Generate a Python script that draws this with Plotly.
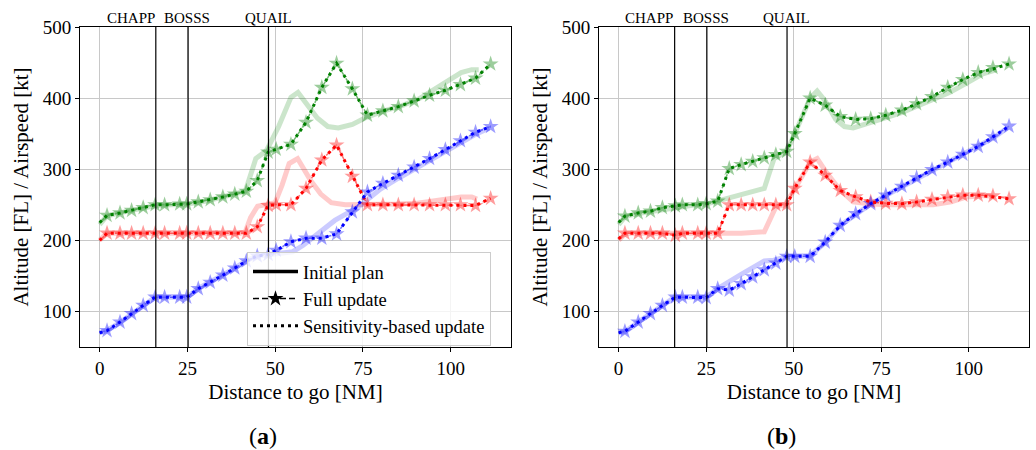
import plotly.graph_objects as go

# ---------------- data: panel (a) ----------------
XA = [0, 2.1, 5.8, 9.1, 12.4, 15.8, 18.5, 22.8, 24.8, 28.1, 31.5, 35.1, 38.5, 41.8, 44.9, 48.0,
      50.3, 54.5, 58.8, 63.3, 67.5, 72.0, 76.3, 80.7, 85.1, 89.6, 94.0, 98.5, 102.8, 107.1, 111.4]
A_green_full = [225, 235, 238.5, 242, 246, 250, 250, 251, 251, 254, 257, 261, 265, 269, 284, 324,
                328, 335, 366, 415, 449, 413, 376, 382, 388, 396, 404, 411, 419, 428, 448]
A_red_full = [200, 210, 210, 210, 210, 210, 210, 210, 210, 210, 210, 210, 210, 210, 219, 249,
              250, 250, 273, 313, 334, 290, 250, 250, 250, 250, 250, 250, 250, 249, 259]
A_blue_full = [70, 73, 85, 97, 108.5, 120, 120, 120, 120, 132, 141, 151, 161, 171, 178, 180,
               186, 198, 203, 203, 209, 240, 268, 280, 291.5, 303, 315, 327.5, 340, 352, 360]
A_green_sens = [225, 235, 238.5, 242, 246, 250, 250, 251, 251, 254, 257, 261, 265, 269, 284, 324,
                328, 335, 366, 415, 449, 413, 376, 382, 388, 396, 404, 411, 419, 428, 448]
A_red_sens = [200, 210, 210, 210, 210, 210, 210, 210, 210, 210, 210, 210, 210, 210, 219, 249,
              250, 250, 273, 313, 334, 290, 250, 250, 250, 250, 250, 250, 250, 249, 259]
A_blue_sens = [70, 73, 85, 97, 108.5, 120, 120, 120, 120, 132, 141, 151, 161, 171, 178, 180,
               186, 198, 203, 203, 209, 240, 268, 280, 291.5, 303, 315, 327.5, 340, 352, 360]

A_green_init_x = [0, 2, 6, 10, 16, 25, 30, 35, 41.5, 44.5, 47.5, 51, 54.5, 56.5, 59, 62, 65, 68,
                  72, 76, 81, 86, 91, 95, 99, 103, 106, 108]
A_green_init_y = [222, 234, 239, 243, 249, 251, 255, 261, 269, 315, 326, 360, 401, 408, 392, 372,
                  360, 358, 363, 373, 382, 389, 399, 412, 425, 436, 440, 440]
A_red_init_x = [0, 2, 10, 20, 30, 40, 41.5, 43, 45, 48, 50, 52, 54, 56.4, 58, 60, 63, 66, 70,
                76, 85, 90, 95, 100, 103, 106, 107.5]
A_red_init_y = [200, 210, 210, 210, 210, 210, 212, 232, 248, 251, 253, 278, 308, 315, 302, 285,
                265, 253, 250, 250, 251, 252, 255, 259, 261, 261, 258]
A_blue_init_x = [0, 2, 6, 9, 12.4, 15.8, 18, 22, 25, 28, 31.5, 35, 38.5, 42, 45, 48, 52, 55, 58,
                 61, 64, 67, 70.5, 74, 77, 80, 85, 90, 94, 98.5, 103, 107.5, 111]
A_blue_init_y = [70, 73, 85, 96, 108, 120, 120, 120, 120, 132, 141, 151, 161, 172, 178, 180, 181,
                 184, 193, 205, 217, 228, 238, 248, 260, 272, 287, 301, 313, 325, 338, 350, 358]

# ---------------- data: panel (b) ----------------
XB = [0, 1.8, 5.6, 9.1, 12.5, 16.2, 18.2, 22.6, 25.0, 28.3, 31.6, 35.0, 38.3, 41.6, 44.9, 48.0,
      50.3, 54.7, 59.0, 63.3, 67.7, 72.0, 76.3, 80.9, 85.1, 89.5, 94.0, 98.3, 102.7, 106.9, 111.5]
B_green_full = [225, 234, 238.5, 241, 246, 248.5, 250, 250, 251.5, 255, 301, 306.5, 311, 316,
                320.5, 325, 350, 400, 390, 374, 370, 371, 376, 383, 392, 402, 415, 426, 436, 443, 448]
B_red_full = [202, 210, 210, 210, 210, 207, 210, 210, 210, 210, 250, 250, 250, 250, 250, 250,
              273, 310, 291.5, 270, 261, 254, 252, 251.5, 254, 257.5, 261, 263.5, 263.5, 262.5, 258.5]
B_blue_full = [70, 72, 85, 97, 108.5, 120, 120, 120, 119.5, 132, 130, 139, 148.5, 158.5, 168,
               177.5, 177.5, 177.5, 197.5, 221, 237.5, 251.5, 263.5, 276, 288, 299.5, 310, 321, 332,
               345.5, 360.5]
B_green_sens = [225, 234, 238.5, 241, 246, 248.5, 250, 250, 251.5, 255, 301, 306.5, 311, 316,
                320.5, 325, 350, 400, 390, 374, 370, 371, 376, 383, 392, 402, 415, 426, 436, 441, 448]
B_red_sens = [202, 210, 210, 210, 210, 207, 210, 210, 210, 210, 250, 250, 250, 250, 250, 250,
              273, 310, 291.5, 270, 261, 254, 252, 251.5, 254, 257.5, 261, 263.5, 263.5, 261, 258.5]
B_blue_sens = [70, 72, 85, 97, 108.5, 120, 120, 120, 119.5, 132, 130, 139, 148.5, 158.5, 168,
               177.5, 177.5, 177.5, 197.5, 221, 237.5, 251.5, 263.5, 276, 288, 299.5, 310, 321, 332,
               345.5, 360.5]

B_green_init_x = [0, 2, 6, 10, 16, 22, 25, 30, 35, 41.6, 44.4, 48, 50.3, 54.7, 56.7, 59, 62,
                  64.5, 67, 72, 76.6, 81, 85, 89.8, 94.5, 99.4, 104, 108]
B_green_init_y = [222, 234, 238, 241, 247, 250, 251, 258, 264, 273, 315, 325, 350, 400, 410, 396,
                  370, 360, 358, 365, 373, 380, 388, 397, 408, 421, 434, 440]
B_red_init_x = [0, 2, 10, 20, 28, 35, 41.6, 44.9, 47.5, 50.3, 54.7, 56.7, 59, 63, 67, 72, 77,
                85, 89.8, 95, 99.4, 104, 107]
B_red_init_y = [200, 210, 210, 210, 210, 210, 212, 247, 250, 272, 310, 315, 298, 272, 254, 251,
                250, 250, 250, 254, 261, 263, 262]
B_blue_init_x = [0, 2, 5.6, 9.1, 12.5, 16, 25, 28.3, 35, 41.6, 44.3, 48, 54.7, 59, 63.3, 67.7,
                 72, 76.3, 80.9, 85.1, 89.5, 94, 98.3, 102.7, 107, 111]
B_blue_init_y = [70, 72, 85, 97, 108.5, 120, 120, 132, 152, 171, 172, 177, 178, 197, 221, 237,
                 251, 263, 275, 287, 298, 309, 320, 331, 344, 358]

WAYPOINTS = ["CHAPP", "BOSSS", "QUAIL"]
WAYPOINT_X = [16.0, 25.2, 48.1]
WAYPOINT_LABEL_X = [8.8, 25.0, 48.0]
LEGEND_NAMES = ["Initial plan", "Full update", "Sensitivity-based update"]
X_TICKS = [0, 25, 50, 75, 100]
Y_TICKS = [100, 200, 300, 400, 500]
PANEL_LABELS = ["a", "b"]

# ---------------- styling ----------------
FONT = "Liberation Serif"
GREEN, RED, BLUE = "rgb(0,128,0)", "rgb(255,0,0)", "rgb(0,0,255)"
W, H = 1036, 450
ax_left = [80, 599]
ax_right = [511, 1029]
ax_top, ax_bot = 27, 347
caption_cx = [263, 781]

fig = go.Figure()

panels = [
    ("x", "y", XA,
     [(GREEN, A_green_init_x, A_green_init_y, A_green_full, A_green_sens),
      (RED, A_red_init_x, A_red_init_y, A_red_full, A_red_sens),
      (BLUE, A_blue_init_x, A_blue_init_y, A_blue_full, A_blue_sens)]),
    ("x2", "y2", XB,
     [(GREEN, B_green_init_x, B_green_init_y, B_green_full, B_green_sens),
      (RED, B_red_init_x, B_red_init_y, B_red_full, B_red_sens),
      (BLUE, B_blue_init_x, B_blue_init_y, B_blue_full, B_blue_sens)]),
]

for xa, ya, xs, series in panels:
    for col, ix, iy, _, _ in series:
        fig.add_trace(go.Scatter(x=ix, y=iy, mode="lines", xaxis=xa, yaxis=ya,
                                 line=dict(color=col, width=5), opacity=0.2,
                                 showlegend=False, hoverinfo="skip"))
    for col, _, _, full, _ in series:
        sizes = [0] + [12] * (len(xs) - 1)
        fig.add_trace(go.Scatter(x=xs, y=full, mode="lines+markers", xaxis=xa, yaxis=ya,
                                 line=dict(color=col, width=1.5, dash="6px,3px"),
                                 marker=dict(symbol="star", size=sizes, color=col,
                                             line=dict(width=0)),
                                 opacity=0.55, showlegend=False, hoverinfo="skip"))
    for col, _, _, _, sens in series:
        fig.add_trace(go.Scatter(x=xs, y=sens, mode="lines", xaxis=xa, yaxis=ya,
                                 line=dict(color=col, width=3, dash="3px,4px"),
                                 showlegend=False, hoverinfo="skip"))

# legend proxies
fig.add_trace(go.Scatter(x=[None], y=[None], mode="lines", name=LEGEND_NAMES[0],
                         line=dict(color="black", width=3.5)))
fig.add_trace(go.Scatter(x=[None], y=[None], mode="lines+markers", name=LEGEND_NAMES[1],
                         line=dict(color="black", width=1.5, dash="6px,3px"),
                         marker=dict(symbol="star", size=12, color="black")))
fig.add_trace(go.Scatter(x=[None], y=[None], mode="lines", name=LEGEND_NAMES[2],
                         line=dict(color="black", width=3, dash="3px,4px")))

axis_common = dict(range=[-5.6, 117.2], tickvals=X_TICKS, showgrid=True, gridcolor="#c8c8c8",
                   gridwidth=1, showline=True, linecolor="black", linewidth=1, mirror=True,
                   ticks="outside", ticklen=4, tickcolor="black", zeroline=False, automargin=False,
                   tickfont=dict(family=FONT, size=19, color="black"),
                   title=dict(text="Distance to go [NM]", font=dict(family=FONT, size=21, color="black"),
                              standoff=6))
yaxis_common = dict(range=[50, 500], tickvals=Y_TICKS, showgrid=True, gridcolor="#c8c8c8",
                    gridwidth=1, showline=True, linecolor="black", linewidth=1, mirror=True,
                    ticks="outside", ticklen=4, tickcolor="black", zeroline=False, automargin=False,
                    tickfont=dict(family=FONT, size=19, color="black"),
                    title=dict(text="Altitude [FL] / Airspeed [kt]",
                               font=dict(family=FONT, size=21, color="black"), standoff=8))

fig.update_layout(
    width=W, height=H, margin=dict(l=0, r=0, t=0, b=0, autoexpand=False),
    paper_bgcolor="white", plot_bgcolor="white",
    xaxis=dict(axis_common, domain=[ax_left[0] / W, ax_right[0] / W], anchor="y"),
    yaxis=dict(yaxis_common, domain=[1 - ax_bot / H, 1 - ax_top / H], anchor="x"),
    xaxis2=dict(axis_common, domain=[ax_left[1] / W, ax_right[1] / W], anchor="y2"),
    yaxis2=dict(yaxis_common, domain=[1 - ax_bot / H, 1 - ax_top / H], anchor="x2"),
    legend=dict(x=247 / W, y=1 - 252 / H, xanchor="left", yanchor="top",
                bgcolor="rgba(255,255,255,0.8)", bordercolor="#cccccc", borderwidth=1,
                font=dict(family=FONT, size=18.5, color="black"), itemwidth=45),
    showlegend=True,
)

shapes = []
annotations = []
for xa, ya in [("x", "y"), ("x2", "y2")]:
    for wx, lx, name in zip(WAYPOINT_X, WAYPOINT_LABEL_X, WAYPOINTS):
        shapes.append(dict(type="line", xref=xa, yref=ya + " domain", x0=wx, x1=wx, y0=0, y1=1,
                           line=dict(color="black", width=1.2)))
        annotations.append(dict(text=name, xref=xa, yref=ya + " domain", x=lx, y=1.0,
                                yanchor="bottom", xanchor="center", showarrow=False, yshift=-1,
                                font=dict(family=FONT, size=15, color="black")))
for i, lab in enumerate(PANEL_LABELS):
    annotations.append(dict(text="(<b>" + lab + "</b>)", xref="paper", yref="paper",
                            x=caption_cx[i] / W, y=1 - 436 / H, xanchor="center", yanchor="middle",
                            showarrow=False, font=dict(family=FONT, size=24, color="black")))
fig.update_layout(shapes=shapes, annotations=annotations)

fig.write_html("out.html")
